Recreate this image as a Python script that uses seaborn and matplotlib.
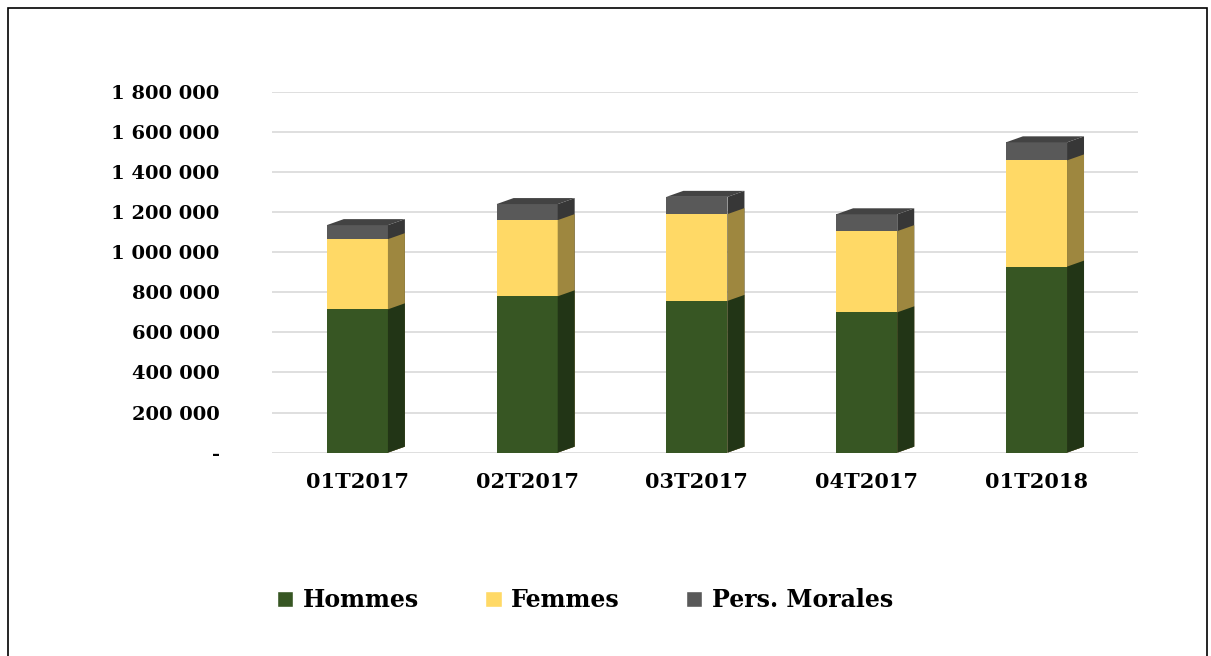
import numpy as np
import matplotlib
matplotlib.use("Agg")
import matplotlib.pyplot as plt
import seaborn as sns
from matplotlib.patches import Polygon, Rectangle
from matplotlib.ticker import FuncFormatter
from matplotlib.colors import to_rgb

quarters = ["01T2017", "02T2017", "03T2017", "04T2017", "01T2018"]
hommes = [715000, 780000, 757000, 700000, 928000]
femmes = [350000, 380000, 433000, 405000, 530000]
morales = [70000, 80000, 86000, 84000, 90000]

series = ["Hommes", "Femmes", "Pers. Morales"]
colors = ["#375623", "#FFD966", "#595959"]

sns.set_style("white")
plt.rcParams["font.family"] = ["DejaVu Serif"]
plt.rcParams["font.weight"] = "bold"
plt.rcParams["text.color"] = "black"
plt.rcParams["xtick.color"] = "black"
plt.rcParams["ytick.color"] = "black"

h = np.array(hommes)
f = np.array(femmes)
m = np.array(morales)
layers = [h + f + m, h + f, h]  # draw from tallest to shortest
layer_colors = [colors[2], colors[1], colors[0]]

fig = plt.figure(figsize=(12.11, 6.56), dpi=100)
ax = fig.add_axes([0.225, 0.31, 0.715, 0.55])

dx, dy = 0.1, 30000


def shade(c, k):
    r, g, b = to_rgb(c)
    return (r * k, g * k, b * k)


for i, (vals, col) in enumerate(zip(layers, layer_colors)):
    n_before = len(ax.patches)
    sns.barplot(x=quarters, y=vals, color=col, saturation=1, width=0.36,
                ax=ax, zorder=3, linewidth=0, edgecolor="none")
    bars = ax.patches[n_before:]
    for p in bars:
        x0, y0 = p.get_x(), p.get_y()
        w, ht = p.get_width(), p.get_height()
        side = Polygon([(x0 + w, y0), (x0 + w + dx, y0 + dy),
                        (x0 + w + dx, y0 + ht + dy), (x0 + w, y0 + ht)],
                       closed=True, facecolor=shade(col, 0.62), edgecolor="none",
                       zorder=3)
        ax.add_patch(side)
        if i == 0:
            top = Polygon([(x0, y0 + ht), (x0 + dx, y0 + ht + dy),
                           (x0 + w + dx, y0 + ht + dy), (x0 + w, y0 + ht)],
                          closed=True, facecolor=shade(col, 0.75),
                          edgecolor="none", zorder=3)
            ax.add_patch(top)

ax.set_ylim(0, 1800000)
ax.set_xlim(-0.5, 4.6)
ax.set_yticks(np.arange(0, 1800001, 200000))


def fmt(v, pos):
    if v == 0:
        return "-"
    return f"{int(v):,}".replace(",", " ")


ax.yaxis.set_major_formatter(FuncFormatter(fmt))
ax.yaxis.grid(True, color="#d9d9d9", linewidth=1.2, zorder=0)
ax.set_axisbelow(True)
for s in ax.spines.values():
    s.set_visible(False)
ax.tick_params(axis="y", length=0, pad=38, labelsize=14)
ax.tick_params(axis="x", length=0, pad=14, labelsize=15)
for t in ax.get_yticklabels() + ax.get_xticklabels():
    t.set_fontweight("bold")
ax.set_xlabel("")
ax.set_ylabel("")

handles = [Rectangle((0, 0), 1, 1, facecolor=c) for c in colors]
fig.legend(handles, series, loc="center", bbox_to_anchor=(0.483, 0.085),
           ncol=3, frameon=False, prop={"size": 17, "weight": "bold"},
           handlelength=0.7, handleheight=0.7, handletextpad=0.4,
           columnspacing=2.8)

fig.add_artist(Rectangle((0.007, -0.01), 0.99, 0.998, transform=fig.transFigure,
                         fill=False, edgecolor="black", linewidth=1.2))

fig.savefig("out.png", dpi=100)
